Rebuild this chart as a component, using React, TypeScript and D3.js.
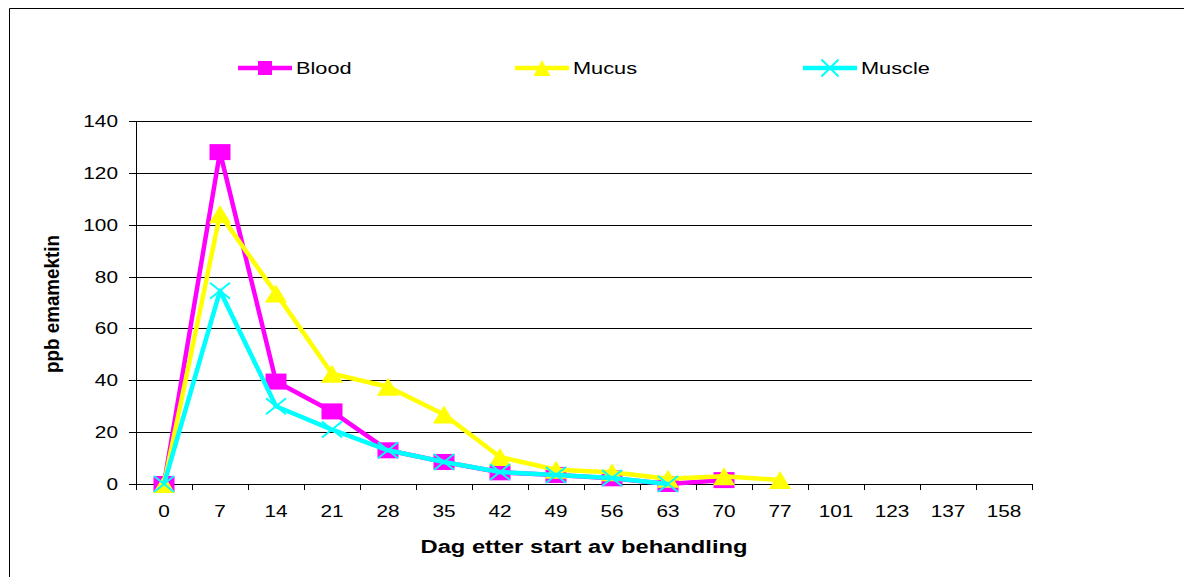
import { useEffect, useRef } from 'react';
import * as d3 from 'd3';

// x categories (days after start of treatment)
const categories = ['0', '7', '14', '21', '28', '35', '42', '49', '56', '63', '70', '77', '101', '123', '137', '158'];
const yTicks = [0, 20, 40, 60, 80, 100, 120, 140];

// ppb emamektin per day
const blood = [0, 128, 39.5, 28, 13, 8.5, 4.5, 3.5, 2.2, 0, 1.5];
const mucus = [0, 104, 73.5, 42.5, 37.5, 26.8, 10.4, 5.5, 4.5, 2, 3, 1.5];
const muscle = [0, 74.5, 30, 21, 13, 8.5, 4.6, 3.5, 2.3, 0];

const seriesNames = ['Blood', 'Mucus', 'Muscle'];
const seriesColors = ['#ff00ff', '#ffff00', '#00ffff'];

const FONT = 'Liberation Sans, Arial, sans-serif';
const SX = 1.3; // the reference is stretched horizontally

export default function App() {
  const svgRef = useRef<SVGSVGElement>(null);

  useEffect(() => {
    if (!svgRef.current) return;
    const svg = d3.select(svgRef.current);
    svg.selectAll('*').remove();

    const width = 1184;
    const height = 577;
    const margin = { top: 121, right: 152, bottom: 93, left: 136 };
    const innerWidth = width - margin.left - margin.right;
    const innerHeight = height - margin.top - margin.bottom;

    // outer chart frame
    svg.append('path')
      .attr('d', `M9.5,${height} V8.5 H${width}`)
      .attr('fill', 'none')
      .attr('stroke', '#000')
      .attr('stroke-width', 1);

    const x = d3.scaleBand().domain(categories).range([0, innerWidth]).padding(0);
    const y = d3.scaleLinear().domain([0, 140]).range([innerHeight, 0]);

    const g = svg.append('g').attr('transform', `translate(${margin.left},${margin.top})`);

    // grid lines
    g.selectAll('.grid')
      .data(yTicks.filter(d => d > 0))
      .enter()
      .append('line')
      .attr('x1', 0)
      .attr('x2', innerWidth)
      .attr('y1', d => Math.round(y(d)) + 0.5)
      .attr('y2', d => Math.round(y(d)) + 0.5)
      .attr('stroke', '#000')
      .attr('stroke-width', 1);

    // y axis
    g.append('line')
      .attr('x1', 0.5).attr('x2', 0.5)
      .attr('y1', 0).attr('y2', innerHeight + 5)
      .attr('stroke', '#000');
    g.selectAll('.ytick')
      .data(yTicks)
      .enter()
      .append('line')
      .attr('x1', -7).attr('x2', 0)
      .attr('y1', d => Math.round(y(d)) + 0.5)
      .attr('y2', d => Math.round(y(d)) + 0.5)
      .attr('stroke', '#000');
    g.selectAll('.ylabel')
      .data(yTicks)
      .enter()
      .append('text')
      .attr('transform', d => `translate(-18,${y(d) + 6}) scale(${SX},1)`)
      .attr('text-anchor', 'end')
      .style('font-family', FONT)
      .style('font-size', '16px')
      .style('fill', '#000')
      .text(d => d);

    // x axis
    g.append('line')
      .attr('x1', 0).attr('x2', innerWidth)
      .attr('y1', innerHeight + 0.5).attr('y2', innerHeight + 0.5)
      .attr('stroke', '#000');
    const bounds = categories.map(c => x(c) as number).concat([innerWidth]);
    g.selectAll('.xtick')
      .data(bounds)
      .enter()
      .append('line')
      .attr('x1', d => Math.round(d) + 0.5).attr('x2', d => Math.round(d) + 0.5)
      .attr('y1', innerHeight).attr('y2', innerHeight + 6)
      .attr('stroke', '#000');
    g.selectAll('.xlabel')
      .data(categories)
      .enter()
      .append('text')
      .attr('transform', d => `translate(${(x(d) as number) + x.bandwidth() / 2},${innerHeight + 33}) scale(${SX},1)`)
      .attr('text-anchor', 'middle')
      .style('font-family', FONT)
      .style('font-size', '16px')
      .style('fill', '#000')
      .text(d => d);

    // axis titles
    svg.append('text')
      .attr('x', margin.left + innerWidth / 2)
      .attr('y', 553)
      .attr('text-anchor', 'middle')
      .attr('textLength', 327)
      .attr('lengthAdjust', 'spacingAndGlyphs')
      .style('font-family', FONT)
      .style('font-size', '17.5px')
      .style('font-weight', 'bold')
      .text('Dag etter start av behandling');

    svg.append('text')
      .attr('transform', `translate(59,304) scale(${SX},1) rotate(-90)`)
      .attr('text-anchor', 'middle')
      .attr('textLength', 138)
      .attr('lengthAdjust', 'spacingAndGlyphs')
      .style('font-family', FONT)
      .style('font-size', '15px')
      .style('font-weight', 'bold')
      .text('ppb emamektin');

    const cx = (i: number) => (x(categories[i]) as number) + x.bandwidth() / 2;

    const drawMarker = (sel: d3.Selection<SVGGElement, unknown, null, undefined>, k: number, w: number, h: number) => {
      const color = seriesColors[k];
      if (k === 0) {
        sel.append('rect').attr('x', -w / 2).attr('y', -h / 2).attr('width', w).attr('height', h).attr('fill', color);
      } else if (k === 1) {
        sel.append('path').attr('d', `M0,${-h / 2} L${w / 2},${h / 2} L${-w / 2},${h / 2} Z`).attr('fill', color);
      } else {
        sel.append('path')
          .attr('d', `M${-w / 2},${-h / 2} L${w / 2},${h / 2} M${w / 2},${-h / 2} L${-w / 2},${h / 2}`)
          .attr('stroke', color)
          .attr('stroke-width', 2)
          .attr('fill', 'none');
      }
    };

    const allSeries = [blood, mucus, muscle];
    const line = d3.line<number>().x((_, i) => cx(i)).y(d => y(d));

    allSeries.forEach((values, k) => {
      const sg = g.append('g');
      sg.append('path')
        .attr('d', line(values))
        .attr('fill', 'none')
        .attr('stroke', seriesColors[k])
        .attr('stroke-width', 4.5)
        .attr('stroke-linejoin', 'round');
      values.forEach((v, i) => {
        const m = sg.append('g').attr('transform', `translate(${cx(i)},${y(v)})`);
        if (k === 0) drawMarker(m, k, 21, 16);
        else if (k === 1) drawMarker(m, k, 22, 18);
        else drawMarker(m, k, 20, 16);
      });
    });

    // legend
    const legendX = [238, 515, 803];
    seriesNames.forEach((name, k) => {
      const lg = svg.append('g').attr('transform', `translate(${legendX[k]},68)`);
      lg.append('line')
        .attr('x1', 0).attr('x2', 54)
        .attr('y1', 0).attr('y2', 0)
        .attr('stroke', seriesColors[k])
        .attr('stroke-width', 4.5);
      const m = lg.append('g').attr('transform', 'translate(27,0)');
      if (k === 0) drawMarker(m, k, 14, 14);
      else if (k === 1) drawMarker(m, k, 17, 16);
      else drawMarker(m, k, 17, 17);
      lg.append('text')
        .attr('transform', `translate(58,6) scale(1.36,1)`)
        .style('font-family', FONT)
        .style('font-size', '16px')
        .style('fill', '#000')
        .text(name);
    });
  }, []);

  return (
    <svg
      ref={svgRef}
      width={1184}
      height={577}
      style={{ position: 'absolute', left: 0, top: 0, background: '#fff' }}
    />
  );
}
